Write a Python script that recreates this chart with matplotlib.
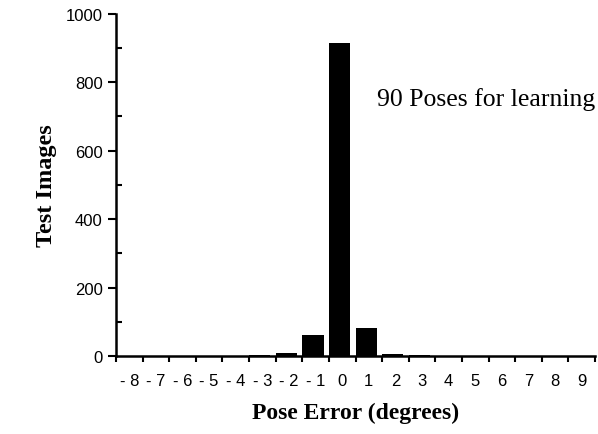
import numpy as np
import matplotlib.pyplot as plt
from matplotlib.ticker import MultipleLocator

# Histogram of pose error, 90 poses used for learning
errors = [-8, -7, -6, -5, -4, -3, -2, -1, 0, 1, 2, 3, 4, 5, 6, 7, 8, 9]
counts = [1, 1, 1, 1, 1, 2, 9, 62, 915, 83, 6, 2, 1, 1, 1, 1, 1, 1]
tick_labels = ["- 8", "- 7", "- 6", "- 5", "- 4", "- 3", "- 2", "- 1",
               "0", "1", "2", "3", "4", "5", "6", "7", "8", "9"]

sans = ["Liberation Sans", "DejaVu Sans"]
serif = ["Liberation Serif", "DejaVu Serif"]

fig = plt.figure(figsize=(5.98, 4.35), dpi=100)
ax = fig.add_axes([0.194, 0.179, 0.801, 0.787])

x = np.array(errors, dtype=float)
ax.bar(x - 0.5, counts, width=0.8, align="edge", color="black")

ax.set_xlim(-8.5, 9.5)
ax.set_ylim(0, 1000)

# labels at bin centres, tick marks at the bin edges
ax.set_xticks(x)
ax.set_xticklabels(tick_labels, family=sans, fontsize=12)
ax.tick_params(axis="x", which="major", length=0, pad=12)
ax.set_xticks(np.arange(-8.5, 9.6, 1.0), minor=True)
ax.tick_params(axis="x", which="minor", direction="out", length=4, width=1.5)

ax.yaxis.set_major_locator(MultipleLocator(200))
ax.yaxis.set_minor_locator(MultipleLocator(100))
ax.tick_params(axis="y", which="major", direction="out", length=6, width=1.5, labelsize=12)
ax.tick_params(axis="y", which="minor", direction="in", length=4, width=1.5)
for lab in ax.get_yticklabels():
    lab.set_family(sans)

for side in ["top", "right"]:
    ax.spines[side].set_visible(False)
ax.spines["left"].set_linewidth(1.8)
ax.spines["bottom"].set_linewidth(1.8)

ax.set_xlabel("Pose Error (degrees)", family=serif, fontweight="bold", fontsize=17, labelpad=10)
ax.set_ylabel("Test Images", family=serif, fontweight="bold", fontsize=17.5, labelpad=6)

ax.text(1.3, 752, "90 Poses for learning", family=serif, fontsize=18.5, va="center", ha="left")

fig.savefig("out.png", dpi=100)
